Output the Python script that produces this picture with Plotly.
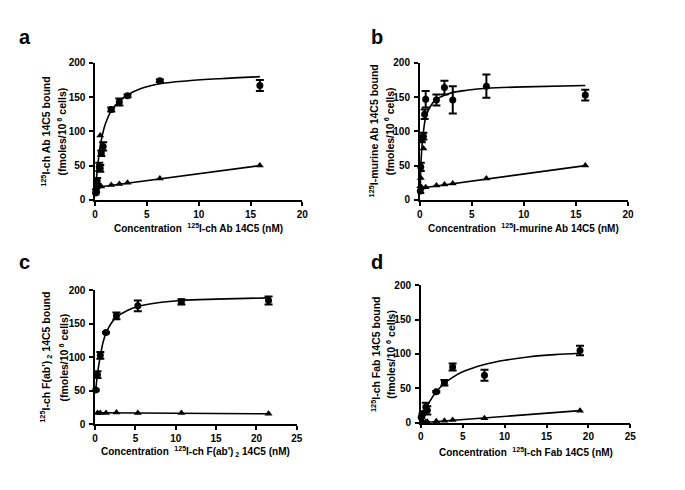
"""Saturation binding of 14C5 variants: four Prism-style panels (a-d)."""

import plotly.graph_objects as go

# ---------------------------------------------------------------------------
# Data (total binding = circles, nonspecific = triangles)
# ---------------------------------------------------------------------------

# Panel a: 125I-ch Ab 14C5
a_tot_x = [0.05, 0.1, 0.2, 0.4, 0.5, 0.6, 0.78, 1.56, 2.34, 3.13, 6.25, 15.9]
a_tot_y = [10, 14, 28, 48, 46, 68, 78, 132, 143, 152, 174, 167]
a_tot_err = [2, 3, 4, 6, 5, 4, 6, 3, 5, 2, 2, 8]
a_ns_x = [0.05, 0.1, 0.2, 0.4, 0.5, 0.6, 1.56, 2.34, 3.13, 6.25, 15.9]
a_ns_y = [17, 18, 19, 20, 94, 19.5, 21.5, 23, 25, 31, 50]
a_fit_x = [0.05, 0.1, 0.3, 0.6, 1.0, 1.6, 2.4, 3.1, 4.5, 6.4, 9, 12, 15.9]
a_fit_y = [12, 24, 56, 87, 111, 131, 145, 153, 163, 170, 174, 177, 180]
a_nsfit_x = [0, 15.9]
a_nsfit_y = [18, 50]

# Panel b: 125I-murine Ab 14C5
b_tot_x = [0.05, 0.1, 0.2, 0.35, 0.47, 0.57, 1.6, 2.37, 3.17, 6.4, 15.9]
b_tot_y = [13, 48, 89, 93, 125, 147, 146, 164, 146, 166, 153]
b_tot_err = [3, 6, 5, 5, 7, 12, 8, 10, 20, 17, 8]
b_ns_x = [0.05, 0.1, 0.2, 0.35, 0.57, 1.6, 2.37, 3.17, 6.4, 15.9]
b_ns_y = [20, 32, 18, 75, 18.5, 21, 22.5, 24, 31, 50]
b_fit_x = [0.05, 0.1, 0.2, 0.35, 0.57, 1.0, 1.6, 2.4, 3.2, 4.5, 6.4, 10, 15.9]
b_fit_y = [10, 48, 75, 99, 120, 136, 147, 153, 157, 160, 163, 165, 167]
b_nsfit_x = [0, 15.9]
b_nsfit_y = [17, 50]

# Panel c: 125I-ch F(ab')2 14C5
c_tot_x = [0.08, 0.3, 0.65, 1.35, 2.65, 5.3, 10.7, 21.5]
c_tot_y = [51, 74, 103, 137, 162, 177, 183, 185]
c_tot_err = [1, 5, 5, 1, 5, 8, 4, 6]
c_ns_x = [0.3, 0.65, 1.35, 2.65, 5.3, 10.7, 21.5]
c_ns_y = [16.5, 16.5, 16.5, 17.5, 16.5, 16.5, 15.5]
c_fit_x = [0.08, 0.3, 0.65, 1.0, 1.35, 2.0, 2.65, 4.0, 5.3, 8.0, 10.7, 15.0, 21.5]
c_fit_y = [51, 75, 102, 123, 136, 151, 160, 170, 176, 182, 185, 187, 189]
c_nsfit_x = [0.15, 21.5]
c_nsfit_y = [17, 15.5]

# Panel d: 125I-ch Fab 14C5
d_tot_x = [0.05, 0.15, 0.6, 0.78, 1.85, 2.82, 3.8, 7.6, 19.0]
d_tot_y = [8, 13, 23, 18, 45, 58, 81, 69, 105]
d_tot_err = [1, 2, 6, 6, 1, 4, 5, 8, 7]
d_ns_x = [0.05, 0.3, 0.6, 0.78, 1.85, 2.82, 3.8, 7.6, 19.0]
d_ns_y = [0.5, 1, 1, 1.2, 2, 3, 4, 6.5, 17.5]
d_fit_x = [0.05, 0.3, 0.6, 1.0, 1.85, 2.82, 3.8, 5.0, 7.6, 10, 13, 16, 19]
d_fit_y = [5, 11, 19.7, 29.5, 45, 57, 66, 74, 84.6, 90.8, 95.9, 99, 101]
d_nsfit_x = [0, 19.0]
d_nsfit_y = [0, 17.5]

FONT = "Liberation Sans, Arial, sans-serif"
BLACK = "#000000"
CONC = "Concentration&nbsp; "

# Each panel: axis suffix, domains (paper coords), x range, titles, label pos
PANELS = [
    dict(
        ax="", xdom=[0.1362, 0.4428], ydom=[0.5933, 0.879], xmax=20,
        tot=(a_tot_x, a_tot_y, a_tot_err), ns=(a_ns_x, a_ns_y),
        fit=(a_fit_x, a_fit_y), nsfit=(a_nsfit_x, a_nsfit_y),
        xtitle=CONC + "<sup>125</sup>I-ch Ab 14C5 (nM)",
        ytitle=["<sup>125</sup>I-ch Ab 14C5 bound",
                "(fmoles/10<sup> 6</sup> cells)"],
        xt_y=228, yt_x=(43, 59), label="a", lab_xy=(22, 33),
    ),
    dict(
        ax="2", xdom=[0.6165, 0.9245], ydom=[0.5933, 0.879], xmax=20,
        tot=(b_tot_x, b_tot_y, b_tot_err), ns=(b_ns_x, b_ns_y),
        fit=(b_fit_x, b_fit_y), nsfit=(b_nsfit_x, b_nsfit_y),
        xtitle=CONC + "<sup>125</sup>I-murine Ab 14C5 (nM)",
        ytitle=["<sup>125</sup>I-murine Ab 14C5 bound",
                "(fmoles/10<sup> 6</sup> cells)"],
        xt_y=228, yt_x=(375, 391), label="b", lab_xy=(379, 33),
    ),
    dict(
        ax="3", xdom=[0.1362, 0.4346], ydom=[0.125, 0.404], xmax=25,
        tot=(c_tot_x, c_tot_y, c_tot_err), ns=(c_ns_x, c_ns_y),
        fit=(c_fit_x, c_fit_y), nsfit=(c_nsfit_x, c_nsfit_y),
        xtitle=CONC + "<sup>125</sup>I-ch F(ab')<sub> 2</sub> 14C5 (nM)",
        ytitle=["<sup>125</sup>I-ch F(ab')<sub> 2</sub> 14C5 bound",
                "(fmoles/10<sup> 6</sup> cells)"],
        xt_y=457, yt_x=(44, 61), label="c", lab_xy=(22, 263),
    ),
    dict(
        ax="4", xdom=[0.618, 0.928], ydom=[0.128, 0.415], xmax=25,
        tot=(d_tot_x, d_tot_y, d_tot_err), ns=(d_ns_x, d_ns_y),
        fit=(d_fit_x, d_fit_y), nsfit=(d_nsfit_x, d_nsfit_y),
        xtitle=CONC + "<sup>125</sup>I-ch Fab 14C5 (nM)",
        ytitle=["<sup>125</sup>I-ch Fab 14C5 bound",
                "(fmoles/10 <sup>6</sup> cells)"],
        xt_y=457, yt_x=(378, 393), label="d", lab_xy=(379, 263),
    ),
]

W, H = 685, 490

fig = go.Figure()
layout = dict(
    width=W, height=H,
    margin=dict(l=0, r=0, t=0, b=0),
    paper_bgcolor="white", plot_bgcolor="white",
    showlegend=False,
    font=dict(family=FONT, color=BLACK),
    annotations=[],
)

for p in PANELS:
    xa, ya = "x" + p["ax"], "y" + p["ax"]
    tx, ty, terr = p["tot"]

    # fitted curves first, markers on top
    fig.add_trace(go.Scatter(
        x=p["fit"][0], y=p["fit"][1], mode="lines", line_shape="spline",
        line=dict(color=BLACK, width=1.6), xaxis=xa, yaxis=ya,
        hoverinfo="skip", cliponaxis=False,
    ))
    fig.add_trace(go.Scatter(
        x=p["nsfit"][0], y=p["nsfit"][1], mode="lines",
        line=dict(color=BLACK, width=1.6), xaxis=xa, yaxis=ya,
        hoverinfo="skip", cliponaxis=False,
    ))
    fig.add_trace(go.Scatter(
        x=p["ns"][0], y=p["ns"][1], mode="markers",
        marker=dict(symbol="triangle-up", size=7, color=BLACK),
        xaxis=xa, yaxis=ya, cliponaxis=False,
    ))
    fig.add_trace(go.Scatter(
        x=tx, y=ty, mode="markers",
        marker=dict(symbol="circle", size=7, color=BLACK),
        error_y=dict(type="data", array=terr, visible=True,
                     color=BLACK, thickness=2, width=4),
        xaxis=xa, yaxis=ya, cliponaxis=False,
    ))

    key = p["ax"]
    axis_common = dict(
        showline=True, linecolor=BLACK, linewidth=1.5,
        ticks="outside", ticklen=4, tickwidth=1.5, tickcolor=BLACK,
        showgrid=False, zeroline=False,
        tickfont=dict(family=FONT, size=10, color=BLACK, weight="bold"),
    )
    layout["xaxis" + key] = dict(
        axis_common, domain=p["xdom"], range=[0, p["xmax"]], dtick=5,
        anchor=ya,
    )
    layout["yaxis" + key] = dict(
        axis_common, domain=p["ydom"], range=[0, 200], dtick=50,
        anchor=xa, ticklabelstandoff=2,
    )

    xmid = (p["xdom"][0] + p["xdom"][1]) / 2
    ymid = (p["ydom"][0] + p["ydom"][1]) / 2
    layout["annotations"].append(dict(
        text="<b>" + p["xtitle"] + "</b>", xref="paper", yref="paper",
        x=xmid, y=1 - p["xt_y"] / H, showarrow=False,
        xanchor="center", yanchor="middle",
        font=dict(family=FONT, size=10, color=BLACK),
    ))
    # y title: two separately placed rotated lines
    for line, lx in zip(p["ytitle"], p["yt_x"]):
        layout["annotations"].append(dict(
            text="<b>" + line + "</b>", xref="paper", yref="paper",
            x=lx / W, y=ymid, showarrow=False, textangle=-90,
            xanchor="center", yanchor="middle",
            font=dict(family=FONT, size=10.5, color=BLACK),
        ))
    layout["annotations"].append(dict(
        text="<b>" + p["label"] + "</b>", xref="paper", yref="paper",
        x=p["lab_xy"][0] / W, y=1 - p["lab_xy"][1] / H, showarrow=False,
        xanchor="center", yanchor="middle",
        font=dict(family=FONT, size=20, color=BLACK),
    ))

fig.update_layout(**layout)
# page body margin would offset the figure inside the fixed-size window
fig.write_html(
    "out.html",
    config={"displayModeBar": False},
    post_script="document.body.style.margin='0px';",
)
